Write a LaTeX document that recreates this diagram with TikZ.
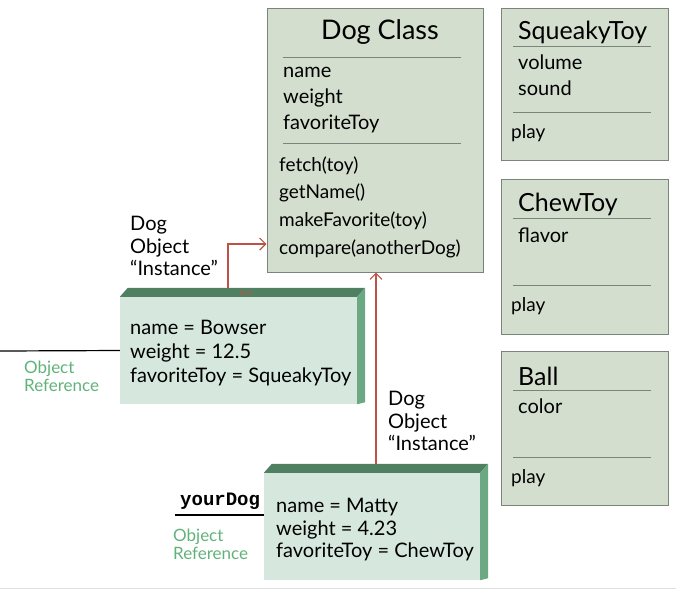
\documentclass[tikz,border=0pt]{standalone}
\usepackage{fontspec}
\setmainfont{Lato}
\setmonofont{Liberation Mono}
\usetikzlibrary{arrows.meta,positioning}
\definecolor{classfill}{RGB}{212,222,206}
\definecolor{classedge}{RGB}{122,132,122}
\definecolor{objfill}{RGB}{214,232,222}
\definecolor{objtop}{RGB}{80,128,98}
\definecolor{objside}{RGB}{108,168,130}
\definecolor{refgreen}{RGB}{96,178,122}
\definecolor{instred}{RGB}{190,82,70}

\begin{document}
\begin{tikzpicture}[x=1pt, y=-1pt, font=\fontsize{20}{24}\selectfont,
    classbox/.style={draw=classedge, fill=classfill, line width=1pt, inner sep=0pt},
    divider/.style={classedge, line width=0.9pt},
    txt/.style={anchor=west, inner sep=0pt, align=left},
    title/.style={txt, font=\fontsize{25}{28}\selectfont},
    objbox/.style={fill=objfill, inner sep=0pt, minimum height=107pt},
    reflabel/.style={txt, text=refgreen, font=\fontsize{17}{18}\selectfont},
    inst/.style={instred, line width=1.2pt, -{Straight Barb[length=6pt,width=12pt]}}]
  \useasboundingbox (0,0) rectangle (676,590);
  \draw[black!12] (0,588) -- (676,588);

  % Dog class
  \node[classbox, minimum width=216pt, minimum height=264pt] (dogclass) at (375,140) {};
  \node[title, anchor=center, font=\fontsize{27}{28}\selectfont] (dogtitle) at (380,32) {Dog Class};
  \draw[divider] (283,57) -- (461,57);
  \node[txt, font=\fontsize{20}{26}\selectfont] (dogattr) at (283,100.5) {name\\weight\\favoriteToy};
  \draw[divider] (283,143) -- (461,143);
  \node[txt, font=\fontsize{19}{27.7}\selectfont] (dogmeth) at (279,207)
    {fetch(toy)\\getName()\\makeFavorite(toy)\\compare(anotherDog)};

  % toy classes
  \node[classbox, minimum width=167pt, minimum height=152pt] (squeaky) at (584.5,84) {};
  \node[title] (sqtitle) at (518,32) {SqueakyToy};
  \draw[divider] (513,46) -- (651,46);
  \node[txt, font=\fontsize{20}{26}\selectfont] (sqattr) at (518,75) {volume\\sound};
  \draw[divider] (513,112) -- (651,112);
  \node[txt, font=\fontsize{19}{24}\selectfont] (sqplay) at (511,133.5) {play};

  \node[classbox, minimum width=167pt, minimum height=155pt] (chew) at (584.5,256.5) {};
  \node[title] (chtitle) at (518,204) {ChewToy};
  \draw[divider] (513,218) -- (651,218);
  \node[txt] (chattr) at (518,235.5) {flavor};
  \draw[divider] (513,285) -- (651,285);
  \node[txt, font=\fontsize{19}{24}\selectfont] (chplay) at (511,306.5) {play};

  \node[classbox, minimum width=167pt, minimum height=154pt] (ball) at (584.5,428) {};
  \node[title] (baltitle) at (518,376) {Ball};
  \draw[divider] (513,390) -- (651,390);
  \node[txt] (balattr) at (518,406.5) {color};
  \draw[divider] (513,457) -- (651,457);
  \node[txt, font=\fontsize{19}{24}\selectfont] (balplay) at (511,478.5) {play};

  % object 1: Bowser
  \node[objbox, minimum width=237pt] (bowser) at (238.5,350.5) {};
  \fill[objtop] (bowser.north west) -- ++(8,-9) -- ([shift={(8pt,9pt)}]bowser.north east) -- (bowser.north east) -- cycle;
  \fill[objside] (bowser.north east) -- ++(8,-9) -- ([shift={(8pt,2pt)}]bowser.south east) -- (bowser.south east) -- cycle;
  \node[txt] (bowsertxt) at (130,353) {name = Bowser\\weight = 12.5\\favoriteToy = SqueakyToy};
  \node[txt, text=instred, font=\fontsize{7}{8}\selectfont] (tag) at (239,293) {Text};
  \node[txt, font=\fontsize{20}{22.5}\selectfont] (inst1) at (130,246) {Dog\\Object\\“Instance”};
  \coordinate (ref1) at (0,351);
  \draw[line width=1.2pt] (ref1) -- (bowser.west);
  \node[reflabel] (ref1lbl) at (24,376) {Object\\Reference};
  \draw[inst] ([xshift=-10.5pt,yshift=9pt]bowser.north) |- ([yshift=-104pt]dogclass.west);

  % object 2: Matty
  \node[objbox, minimum width=216pt] (matty) at (372,526.5) {};
  \fill[objtop] (matty.north west) -- ++(8,-9) -- ([shift={(8pt,9pt)}]matty.north east) -- (matty.north east) -- cycle;
  \fill[objside] (matty.north east) -- ++(8,-9) -- ([shift={(8pt,2pt)}]matty.south east) -- (matty.south east) -- cycle;
  \node[txt, font=\fontsize{20}{22.5}\selectfont] (mattytxt) at (276,530) {name = Matty\\weight = 4.23\\favoriteToy = ChewToy};
  \node[txt, font=\fontsize{20}{22.5}\selectfont] (inst2) at (388,421) {Dog\\Object\\“Instance”};
  \node[txt, font=\fontsize{19}{22}\ttfamily\bfseries] (yourdog) at (180,501) {yourDog};
  \coordinate (ref2) at (175,515);
  \draw[line width=1.2pt] (ref2) -- (ref2 -| matty.west);
  \node[reflabel] (ref2lbl) at (173,544) {Object\\Reference};
  \draw[inst] ([xshift=4pt,yshift=9pt]matty.north) -- ([xshift=1pt]dogclass.south);
\end{tikzpicture}
\end{document}
